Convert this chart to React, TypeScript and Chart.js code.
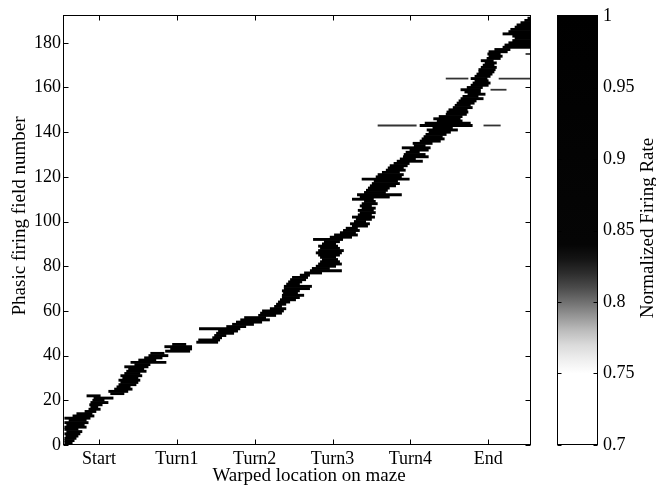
import React, { useEffect, useRef } from 'react';
import { Chart, registerables } from 'chart.js';

Chart.register(...registerables);

// Firing-field extents (warped location bins, 0..120) for field numbers 1..191
const fieldStart = [
  0.1, 0.1, 0.1, 0.4, 0.1, 0.6, 0.1, 0.1, 0.6, 0.1,
  1.2, 0.1, 2.2, 3.2, 5.3, 6.3, 6.8, 6.5, 6.8, 7.3,
  7.6, 5.8, 11.9, 11.4, 12.9, 13.5, 14.0, 14.5, 14.0, 15.0,
  14.5, 15.5, 16.0, 16.5, 15.5, 18.1, 17.1, 19.1, 20.6, 21.7,
  22.2, 26.0, 27.3, 25.8, 27.8, 34.0, 34.5, 38.1, 38.6, 39.1,
  39.6, 34.7, 41.7, 43.2, 44.2, 45.3, 46.3, 49.9, 50.4, 50.9,
  52.9, 54.0, 54.5, 55.0, 55.5, 56.0, 56.0, 56.3, 56.0, 56.5,
  56.5, 57.1, 57.6, 58.1, 58.6, 60.6, 61.7, 63.2, 63.7, 64.7,
  65.3, 65.8, 66.3, 65.8, 65.3, 64.7, 65.3, 65.8, 65.3, 66.3,
  66.8, 64.0, 68.3, 69.4, 70.9, 71.7, 72.4, 74.0, 73.5, 74.5,
  75.0, 74.0, 75.5, 76.0, 75.5, 76.5, 76.0, 76.5, 77.1, 74.0,
  76.0, 75.3, 77.1, 77.6, 78.1, 78.6, 79.1, 79.6, 76.5, 80.1,
  80.6, 81.7, 82.7, 83.2, 83.7, 84.7, 85.5, 86.3, 87.1, 87.3,
  87.8, 88.8, 86.8, 89.9, 89.6, 91.4, 91.9, 92.4, 92.9, 93.7,
  93.2, 94.7, 91.4, 92.7, 95.8, 94.9, 96.3, 98.1, 98.3, 98.8,
  99.9, 100.4, 100.9, 101.4, 101.9, 102.4, 103.7, 102.9, 101.9, 103.5,
  104.5, 105.0, 105.5, 104.5, 105.5, 106.0, 106.5, 106.5, 107.1, 107.6,
  108.1, 107.1, 108.6, 109.1, 108.8, 109.1, 110.6, 112.7, 113.2, 114.2,
  115.2, 115.8, 115.2, 112.7, 114.2, 114.7, 115.8, 116.3, 117.3, 118.3,
  119.1,
];
const fieldEnd = [
  2.2, 2.7, 3.2, 3.7, 4.2, 4.7, 3.7, 5.8, 5.3, 6.3,
  5.8, 6.8, 7.8, 7.3, 8.3, 9.4, 8.8, 9.9, 11.4, 10.4,
  12.7, 9.4, 15.5, 16.5, 17.6, 17.1, 18.6, 19.1, 19.6, 19.1,
  20.1, 19.6, 21.2, 20.6, 21.7, 22.2, 26.3, 23.7, 25.3, 26.8,
  25.8, 32.4, 32.9, 32.9, 31.4, 39.6, 40.1, 40.6, 41.7, 43.7,
  44.7, 45.3, 46.8, 48.8, 50.9, 52.9, 51.9, 54.5, 56.0, 56.5,
  57.1, 56.0, 57.1, 58.1, 59.6, 60.6, 61.7, 60.1, 60.6, 63.2,
  63.7, 60.6, 61.2, 62.2, 62.7, 63.2, 66.3, 71.4, 68.3, 69.9,
  71.4, 70.9, 70.4, 69.9, 70.9, 71.4, 71.9, 70.9, 70.4, 69.9,
  70.9, 71.7, 74.0, 75.5, 75.0, 76.0, 75.5, 78.1, 78.6, 77.6,
  79.1, 79.9, 79.1, 80.1, 79.6, 80.1, 79.1, 80.6, 80.1, 79.6,
  83.7, 86.8, 82.7, 83.2, 83.7, 85.3, 86.3, 85.8, 88.8, 86.8,
  87.3, 86.3, 87.8, 87.3, 88.3, 88.8, 92.2, 90.4, 93.7, 92.9,
  91.4, 93.7, 94.2, 92.9, 94.7, 96.8, 97.8, 97.3, 98.3, 99.4,
  101.2, 99.9, 105.0, 104.5, 102.4, 101.9, 102.4, 103.5, 103.9, 103.7,
  105.0, 104.5, 105.5, 106.0, 107.8, 106.5, 108.3, 107.1, 107.1, 107.6,
  109.1, 109.6, 109.1, 108.8, 109.6, 110.1, 110.6, 110.9, 111.2, 110.6,
  111.2, 110.4, 112.2, 112.7, 112.2, 114.0, 114.7, 120, 120, 120,
  120, 120, 120, 120, 120, 120, 120, 120, 120, 120,
  120,
];
const fieldNumbers = fieldStart.map((_, i) => i + 1);

// Secondary (detached) segments
const extraRow = [143, 143, 159, 164, 164, 175];
const extraStart = [80.6, 107.8, 109.6, 98.1, 111.7, 118.6];
const extraEnd = [90.6, 112.2, 113.7, 103.9, 120, 120];

const xTickValues = [9, 29, 49, 69, 89, 109];
const xTickLabels = ['Start', 'Turn1', 'Turn2', 'Turn3', 'Turn4', 'End'];
const yTickValues = [0, 20, 40, 60, 80, 100, 120, 140, 160, 180];

const cbTickValues = [0.7, 0.75, 0.8, 0.85, 0.9, 0.95, 1];
const cbTickLabels = ['0.7', '0.75', '0.8', '0.85', '0.9', '0.95', '1'];
const cmapLevels = [0.7, 0.75, 0.76, 0.77, 0.78, 0.79, 0.8, 0.81, 0.82, 0.83, 0.84, 1];
const cmapGray = [255, 255, 238, 218, 188, 150, 112, 75, 45, 20, 5, 0];

const FONT = "'Liberation Serif', 'Times New Roman', serif";

const mainFrame = {
  id: 'mainFrame',
  afterDraw(chart: any) {
    const { ctx, chartArea } = chart;
    const { left, right, top, bottom } = chartArea;
    const xs = chart.scales.x;
    const ys = chart.scales.y;
    const L = Math.round(left) - 0.5;
    const R = Math.round(right) - 0.5;
    const T = Math.round(top) - 0.5;
    const B = Math.round(bottom) - 0.5;
    ctx.save();
    ctx.strokeStyle = '#000';
    ctx.lineWidth = 1;
    ctx.strokeRect(L, T, R - L, B - T);
    ctx.beginPath();
    xTickValues.forEach((v) => {
      const px = Math.round(xs.getPixelForValue(v)) + 0.5;
      ctx.moveTo(px, B); ctx.lineTo(px, B - 5);
      ctx.moveTo(px, T); ctx.lineTo(px, T + 5);
    });
    yTickValues.forEach((v) => {
      const py = Math.round(ys.getPixelForValue(v)) + 0.5;
      ctx.moveTo(L, py); ctx.lineTo(L + 5, py);
      ctx.moveTo(R, py); ctx.lineTo(R - 5, py);
    });
    ctx.stroke();
    ctx.fillStyle = '#000';
    ctx.font = `19px ${FONT}`;
    ctx.textAlign = 'center';
    ctx.textBaseline = 'alphabetic';
    ctx.fillText('Warped location on maze', 309, 481);
    ctx.translate(25, 216);
    ctx.rotate(-Math.PI / 2);
    ctx.fillText('Phasic firing field number', 0, 0);
    ctx.restore();
  },
};

const cbFrame = {
  id: 'cbFrame',
  afterDraw(chart: any) {
    const { ctx, chartArea } = chart;
    const { left, right, top, bottom } = chartArea;
    const ys = chart.scales.y;
    const L = Math.round(left) - 0.5;
    const R = Math.round(right) - 0.5;
    const T = Math.round(top) - 0.5;
    const B = Math.round(bottom) - 0.5;
    ctx.save();
    ctx.strokeStyle = '#000';
    ctx.lineWidth = 1;
    ctx.strokeRect(L, T, R - L, B - T);
    ctx.beginPath();
    cbTickValues.forEach((v) => {
      const py = Math.round(ys.getPixelForValue(v)) + 0.5;
      ctx.moveTo(L, py); ctx.lineTo(L + 4, py);
      ctx.moveTo(R, py); ctx.lineTo(R - 4, py);
    });
    ctx.stroke();
    ctx.fillStyle = '#000';
    ctx.font = `19px ${FONT}`;
    ctx.textAlign = 'center';
    ctx.textBaseline = 'alphabetic';
    ctx.translate(653, 228);
    ctx.rotate(-Math.PI / 2);
    ctx.fillText('Normalized Firing Rate', 0, 0);
    ctx.restore();
  },
};

export default function App() {
  const mainRef = useRef<HTMLCanvasElement>(null);
  const cbRef = useRef<HTMLCanvasElement>(null);

  useEffect(() => {
    const tickFont = { family: FONT, size: 18 };
    const main = new Chart(mainRef.current as HTMLCanvasElement, {
      type: 'bar',
      data: {
        datasets: [
          {
            data: fieldNumbers.map((r, i) => ({ x: [fieldStart[i], fieldEnd[i]], y: r })) as any,
            backgroundColor: '#000',
            borderWidth: 0,
            grouped: false,
            barPercentage: 1.3,
            categoryPercentage: 1,
          } as any,
          {
            data: extraRow.map((r, i) => ({ x: [extraStart[i], extraEnd[i]], y: r })) as any,
            backgroundColor: '#333',
            borderWidth: 0,
            grouped: false,
            barPercentage: 0.8,
            categoryPercentage: 1,
          } as any,
        ],
      },
      options: {
        indexAxis: 'y',
        responsive: false,
        animation: false,
        devicePixelRatio: 1,
        layout: { padding: { left: 0, top: 16, right: 125, bottom: 0 } },
        plugins: { legend: { display: false }, tooltip: { enabled: false } },
        scales: {
          x: {
            type: 'linear',
            min: 0,
            max: 120,
            offset: false,
            grid: { display: false, drawTicks: false },
            border: { display: false },
            afterBuildTicks: (s: any) => { s.ticks = xTickValues.map((v) => ({ value: v })); },
            afterFit: (s: any) => { s.height = 41; },
            ticks: {
              autoSkip: false,
              maxRotation: 0,
              padding: 3,
              color: '#000',
              font: tickFont,
              callback: (_v: any, i: number) => xTickLabels[i],
            },
          },
          y: {
            type: 'linear',
            min: 0,
            max: 192,
            offset: false,
            grid: { display: false, drawTicks: false },
            border: { display: false },
            afterBuildTicks: (s: any) => { s.ticks = yTickValues.map((v) => ({ value: v })); },
            afterFit: (s: any) => { s.width = 64; },
            ticks: {
              autoSkip: false,
              padding: 3,
              color: '#000',
              font: tickFont,
              callback: (_v: any, i: number) => String(yTickValues[i]),
            },
          },
        },
      } as any,
      plugins: [mainFrame],
    });

    const cbMin = cbTickValues[0];
    const cbMax = cbTickValues[cbTickValues.length - 1];
    const cb = new Chart(cbRef.current as HTMLCanvasElement, {
      type: 'bar',
      data: {
        labels: ['cb'],
        datasets: [
          {
            data: [[cbMin, cbMax]] as any,
            backgroundColor: (c: any) => {
              const chart = c.chart;
              const ys = chart.scales && chart.scales.y;
              if (!chart.chartArea || !ys) return '#000';
              const y0 = ys.getPixelForValue(cbMin);
              const y1 = ys.getPixelForValue(cbMax);
              const g = chart.ctx.createLinearGradient(0, y0, 0, y1);
              cmapLevels.forEach((lv, i) => {
                const v = cmapGray[i];
                const off = Math.min(1, Math.max(0, (lv - cbMin) / (cbMax - cbMin)));
                g.addColorStop(off, `rgb(${v},${v},${v})`);
              });
              return g;
            },
            borderWidth: 0,
            barPercentage: 1,
            categoryPercentage: 1,
          } as any,
        ],
      },
      options: {
        responsive: false,
        animation: false,
        devicePixelRatio: 1,
        layout: { padding: { left: 558, top: 16, right: 0, bottom: 41 } },
        plugins: { legend: { display: false }, tooltip: { enabled: false } },
        scales: {
          x: { display: false },
          y: {
            type: 'linear',
            position: 'right',
            min: cbMin,
            max: cbMax,
            grid: { display: false, drawTicks: false },
            border: { display: false },
            afterBuildTicks: (s: any) => { s.ticks = cbTickValues.map((v) => ({ value: v })); },
            afterFit: (s: any) => { s.width = 58; },
            ticks: {
              autoSkip: false,
              padding: 5,
              color: '#000',
              font: tickFont,
              callback: (_v: any, i: number) => cbTickLabels[i],
            },
          },
        },
      } as any,
      plugins: [cbFrame],
    });

    return () => {
      main.destroy();
      cb.destroy();
    };
  }, []);

  return (
    <div style={{ position: 'fixed', left: 0, top: 0, width: 656, height: 486, background: '#fff' }}>
      <canvas ref={mainRef} width={656} height={486} style={{ position: 'absolute', left: 0, top: 0 }} />
      <canvas ref={cbRef} width={656} height={486} style={{ position: 'absolute', left: 0, top: 0 }} />
    </div>
  );
}
